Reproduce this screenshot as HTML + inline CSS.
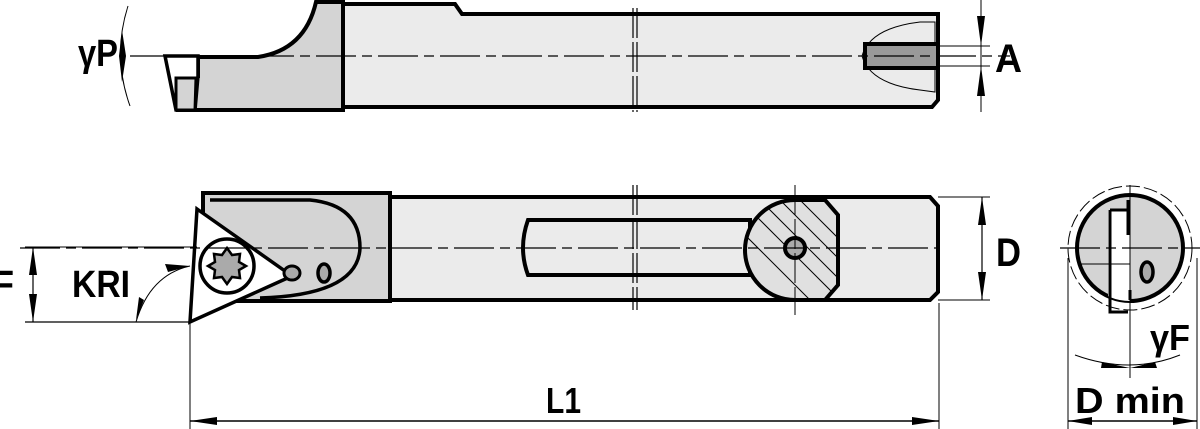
<!DOCTYPE html>
<html><head><meta charset="utf-8"><style>
html,body{margin:0;padding:0;background:#fff;width:1200px;height:429px;overflow:hidden}
svg{display:block}
text{font-family:"Liberation Sans",sans-serif;fill:#000;font-weight:bold}
</style></head><body>
<svg width="1200" height="429" viewBox="0 0 1200 429" xmlns="http://www.w3.org/2000/svg">
<defs>
<clipPath id="cc"><path d="M795,200 A50,50 0 1 0 795,300 L825,300 L838,285 L838,215 L825,200 Z"/></clipPath>
<clipPath id="ec"><circle cx="1130" cy="248" r="53"/></clipPath>
</defs>

<!-- TOP VIEW -->
<path d="M343,4 L455,4 L462,14 L938,14 L938,100 L932,107 L343,107 Z" fill="#ebebeb" stroke="#000" stroke-width="4"/>
<path d="M198,57 L258,57 Q305,50 316,2 L343,2 L343,110 L178,110 L178,76 L198,76 Z" fill="#d4d4d4" stroke="#000" stroke-width="4"/>
<path d="M165,56 L198,56 L198,76 L195,110 L176,110 Z" fill="#fff" stroke="#000" stroke-width="3.5"/>
<path d="M176,78 L196,78 L195,110 L176,110 Z" fill="#d4d4d4" stroke="#000" stroke-width="3"/>
<path d="M862,56 Q870,28 920,22 L935,22 L935,92 L920,90 Q870,84 862,56 Z" fill="#ebebeb" stroke="#000" stroke-width="1"/>
<path d="M865,44 L938,44 L938,68 L865,68 Z" fill="#999" stroke="#000" stroke-width="4"/>
<line x1="130" y1="56" x2="1010" y2="56" stroke="#000" stroke-width="1.2" stroke-dasharray="40,6,10,6"/>
<line x1="633" y1="8" x2="633" y2="112" stroke="#000" stroke-width="1.2" stroke-dasharray="30,4"/>
<line x1="637" y1="8" x2="637" y2="112" stroke="#000" stroke-width="1.2" stroke-dasharray="30,4"/>
<path d="M128,6 Q112,56 130,106" fill="none" stroke="#000" stroke-width="1"/>
<path d="M122,30 L126,56 L119,56 Z M119,56 L126,56 L122,82 Z" fill="#000"/>
<text x="78" y="66" font-size="38" textLength="40" lengthAdjust="spacingAndGlyphs">γP</text>
<!-- A dim -->
<line x1="938" y1="46" x2="990" y2="46" stroke="#000" stroke-width="1"/>
<line x1="938" y1="66" x2="990" y2="66" stroke="#000" stroke-width="1"/>
<line x1="981" y1="0" x2="981" y2="112" stroke="#000" stroke-width="1"/>
<path d="M977,16 L985,16 L981,46 Z M977,96 L985,96 L981,66 Z" fill="#000"/>
<text x="995" y="72" font-size="40" textLength="27" lengthAdjust="spacingAndGlyphs">A</text>

<!-- SIDE VIEW -->
<path d="M390,197 L930,197 L938,206 L938,292 L930,300 L390,300 Z" fill="#ebebeb" stroke="#000" stroke-width="4"/>
<rect x="203" y="193" width="187" height="108" fill="#d4d4d4" stroke="#000" stroke-width="4"/>
<path d="M210,200 L310,200 Q360,205 360,248 Q358,295 260,298" fill="none" stroke="#000" stroke-width="3.5"/>
<path d="M197,209 L292,276 L190,322 Z" fill="#fff" stroke="#000" stroke-width="3.5"/>
<circle cx="227" cy="266" r="27" fill="#fff" stroke="#000" stroke-width="3.5"/>
<path d="M227,248 l5,7 8,-1 -1,8 7,4 -7,4 1,8 -8,-1 -5,7 -5,-7 -8,1 1,-8 -7,-4 7,-4 -1,-8 8,1 Z" fill="#aaa" stroke="#000" stroke-width="2.5"/>
<ellipse cx="292" cy="273" rx="8" ry="7" fill="#aaa" stroke="#000" stroke-width="3"/>
<ellipse cx="324" cy="273" rx="6" ry="9" fill="#aaa" stroke="#000" stroke-width="3.5"/>
<path d="M528,220 L750,220 L750,275 L528,275 Q518,248 528,220 Z" fill="#ebebeb" stroke="#000" stroke-width="4"/>
<path d="M795,200 A50,50 0 1 0 795,300 L825,300 L838,285 L838,215 L825,200 Z" fill="#e0e0e0" stroke="#000" stroke-width="4"/>
<g clip-path="url(#cc)" stroke="#000" stroke-width="1">
<line x1="740" y1="180" x2="860" y2="300"/><line x1="760" y1="180" x2="880" y2="300"/><line x1="720" y1="180" x2="840" y2="300"/><line x1="700" y1="190" x2="820" y2="310"/><line x1="780" y1="180" x2="900" y2="300"/></g>
<circle cx="795" cy="248" r="10" fill="#aaa" stroke="#000" stroke-width="4"/>
<line x1="795" y1="185" x2="795" y2="315" stroke="#000" stroke-width="1" stroke-dasharray="30,4"/>
<line x1="20" y1="248" x2="940" y2="248" stroke="#000" stroke-width="1.2" stroke-dasharray="40,6,10,6"/>
<line x1="633" y1="185" x2="633" y2="310" stroke="#000" stroke-width="1.2" stroke-dasharray="30,4"/>
<line x1="637" y1="185" x2="637" y2="310" stroke="#000" stroke-width="1.2" stroke-dasharray="30,4"/>
<!-- D dim -->
<line x1="938" y1="197" x2="990" y2="197" stroke="#000" stroke-width="1"/>
<line x1="938" y1="300" x2="990" y2="300" stroke="#000" stroke-width="1"/>
<line x1="982" y1="197" x2="982" y2="300" stroke="#000" stroke-width="1.2"/>
<path d="M978,225 L986,225 L982,197 Z M978,272 L986,272 L982,300 Z" fill="#000"/>
<text x="996" y="266" font-size="40" textLength="25" lengthAdjust="spacingAndGlyphs">D</text>
<!-- F dim -->
<line x1="25" y1="247" x2="197" y2="247" stroke="#000" stroke-width="1"/>
<line x1="25" y1="322" x2="190" y2="322" stroke="#000" stroke-width="1.2"/>
<line x1="33" y1="247" x2="33" y2="322" stroke="#000" stroke-width="1.2"/>
<path d="M29,275 L37,275 L33,247 Z M29,294 L37,294 L33,322 Z" fill="#000"/>
<text x="-8" y="297" font-size="38" textLength="22" lengthAdjust="spacingAndGlyphs">F</text>
<text x="72" y="297" font-size="38" textLength="58" lengthAdjust="spacingAndGlyphs">KRI</text>
<path d="M136,322 Q150,275 190,266" fill="none" stroke="#000" stroke-width="1"/>
<path d="M165,264 L190,266 L168,272 Z M139,297 L136,320 L144,300 Z" fill="#000"/>
<!-- L1 -->
<line x1="190" y1="322" x2="190" y2="429" stroke="#000" stroke-width="1"/>
<line x1="939" y1="303" x2="939" y2="429" stroke="#000" stroke-width="1"/>
<line x1="190" y1="421" x2="939" y2="421" stroke="#000" stroke-width="1.5"/>
<path d="M190,421 L217,417 L217,425 Z M939,421 L912,417 L912,425 Z" fill="#000"/>
<text x="546" y="413" font-size="36" textLength="35" lengthAdjust="spacingAndGlyphs">L1</text>

<!-- END VIEW -->
<circle cx="1130" cy="248" r="62" fill="none" stroke="#000" stroke-width="1" stroke-dasharray="14,4"/>
<circle cx="1130" cy="248" r="53" fill="#d4d4d4" stroke="#000" stroke-width="4"/>
<g clip-path="url(#ec)"><rect x="1108" y="210" width="22" height="105" fill="#fff"/></g>
<path d="M1110,210 L1110,312 L1128,312 M1110,210 L1128,210 M1128,200 L1128,235 M1130,290 L1130,300" fill="none" stroke="#000" stroke-width="3"/>
<line x1="1080" y1="264" x2="1130" y2="264" stroke="#000" stroke-width="1"/>
<ellipse cx="1147" cy="272" rx="6" ry="10" fill="#aaa" stroke="#000" stroke-width="3.5"/>
<line x1="1130" y1="185" x2="1130" y2="378" stroke="#000" stroke-width="1"/>
<line x1="1060" y1="248" x2="1200" y2="248" stroke="#000" stroke-width="1.2" stroke-dasharray="40,6,10,6"/>
<path d="M1075,355 Q1130,375 1180,355" fill="none" stroke="#000" stroke-width="1"/>
<path d="M1130,368 L1102,362 L1101,368 Z M1130,368 L1155,362 L1157,368 Z" fill="#000"/>
<text x="1150" y="350" font-size="36" textLength="40" lengthAdjust="spacingAndGlyphs">γF</text>
<line x1="1068" y1="258" x2="1068" y2="429" stroke="#000" stroke-width="1"/>
<line x1="1197" y1="258" x2="1197" y2="429" stroke="#000" stroke-width="1"/>
<line x1="1068" y1="421" x2="1197" y2="421" stroke="#000" stroke-width="1.5"/>
<path d="M1068,421 L1092,417 L1092,425 Z M1197,421 L1173,417 L1173,425 Z" fill="#000"/>
<text x="1075" y="413" font-size="36" textLength="110" lengthAdjust="spacingAndGlyphs">D min</text>
</svg>
</body></html>
